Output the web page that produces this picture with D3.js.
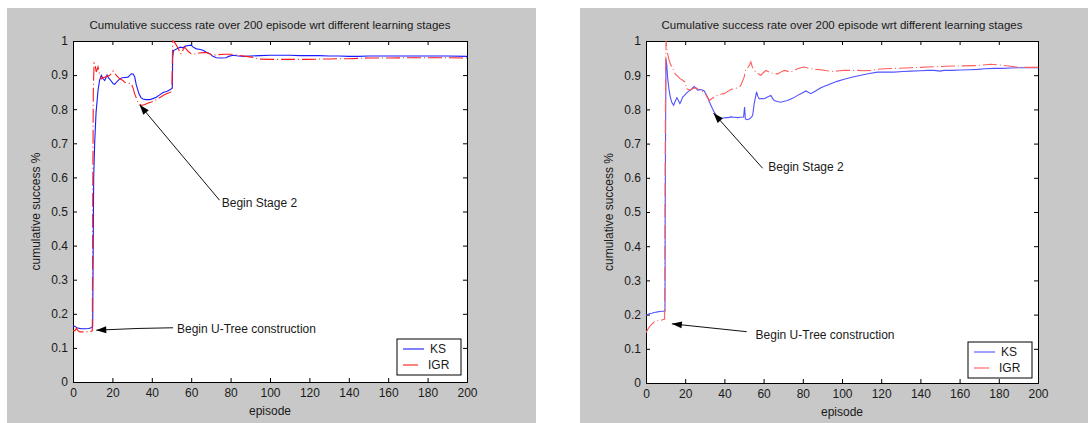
<!DOCTYPE html>
<html>
<head>
<title>cumulative success</title>
<script src="https://d3js.org/d3.v7.min.js"></script>
<style>
body { margin: 0; background: #fff; }
text { font-family: Arial, "Liberation Sans", sans-serif; fill: #1a1a1a; }
</style>
</head>
<body>
<svg width="1088" height="423" id="mainsvg"></svg>
<script>
// ---- data ----
const titleText = 'Cumulative success rate over 200 episode wrt different learning stages';
const xLabel = 'episode';
const yLabel = 'cumulative success %';
const seriesNames = ['KS', 'IGR'];
const xTicks = [0, 20, 40, 60, 80, 100, 120, 140, 160, 180, 200];
const yTicks = [0, 0.1, 0.2, 0.3, 0.4, 0.5, 0.6, 0.7, 0.8, 0.9, 1];

// left chart: [episode, rate]
const leftKS = [[0,0.165],[1,0.163],[2,0.159],[4,0.156],[6,0.156],[8,0.157],[9.6,0.16],[10,0.163],[10.2,0.35],[10.5,0.6],[11,0.7],[11.7,0.79],[12.7,0.855],[13.5,0.885],[14.4,0.899],[15.2,0.89],[16.1,0.884],[17.3,0.9],[18,0.892],[18.6,0.888],[19.5,0.882],[20.3,0.875],[21.2,0.873],[22,0.879],[23.7,0.889],[25,0.892],[26.5,0.893],[27.9,0.894],[29.6,0.904],[30.5,0.903],[31.3,0.895],[32.1,0.872],[33.5,0.845],[34.5,0.834],[35.5,0.83],[37,0.828],[38.9,0.828],[40.5,0.831],[42.3,0.835],[44,0.842],[45.7,0.849],[47.5,0.852],[49.5,0.858],[50.4,0.862],[50.6,0.95],[51,0.972],[51.8,0.974],[53,0.978],[54.5,0.982],[55.8,0.98],[57,0.985],[58.5,0.987],[60,0.988],[61,0.982],[62.6,0.977],[64,0.976],[66,0.973],[67.5,0.968],[69.4,0.963],[71,0.955],[72.8,0.951],[75,0.95],[77.8,0.951],[79,0.955],[81.2,0.958],[84,0.956],[87,0.955],[90,0.956],[95,0.957],[100,0.958],[105,0.958],[110,0.958],[115,0.957],[120,0.957],[125,0.957],[130,0.956],[135,0.956],[140,0.955],[145,0.955],[150,0.956],[160,0.956],[170,0.956],[180,0.956],[190,0.956],[200,0.955]];
const leftIGR = [[0,0.152],[1,0.15],[1.8,0.158],[2.6,0.15],[3.5,0.147],[5,0.147],[7,0.147],[9,0.148],[9.8,0.15],[10,0.5],[10.3,0.85],[10.7,0.935],[11.2,0.93],[11.8,0.909],[12.7,0.924],[13.2,0.909],[14.4,0.889],[15.2,0.892],[16.1,0.894],[17.5,0.897],[18.6,0.899],[19.5,0.905],[20.3,0.912],[21.2,0.905],[22,0.899],[23,0.893],[23.7,0.889],[25.4,0.884],[26.2,0.879],[27.5,0.877],[29.6,0.875],[30.5,0.862],[31.3,0.845],[32.2,0.832],[33,0.821],[34.7,0.811],[36.5,0.814],[38.1,0.818],[40,0.821],[41.5,0.825],[43.5,0.832],[45.7,0.84],[47.5,0.845],[49.6,0.85],[50.2,0.86],[50.6,1.0],[51.4,0.997],[52.2,0.99],[53.5,0.978],[54.4,0.963],[55.2,0.963],[55.9,0.975],[56.7,0.982],[57.5,0.976],[58.4,0.97],[60.1,0.962],[62.6,0.962],[64,0.965],[66,0.966],[67.7,0.966],[69.5,0.962],[71.1,0.958],[74,0.96],[77,0.961],[81.2,0.961],[84,0.958],[88,0.955],[91.4,0.952],[94.8,0.947],[100,0.946],[105,0.946],[110,0.946],[115,0.946],[120,0.946],[125,0.947],[130,0.947],[135,0.948],[140,0.948],[145,0.949],[150,0.95],[160,0.95],[170,0.951],[180,0.951],[190,0.951],[200,0.95]];

// right chart
const rightKS = [[0,0.198],[1,0.2],[2,0.203],[3,0.204],[4,0.206],[5,0.207],[6,0.208],[7,0.209],[8,0.21],[9.7,0.21],[9.8,0.5],[10,0.75],[10.2,0.948],[10.6,0.93],[11,0.895],[11.7,0.86],[12.4,0.836],[13.2,0.82],[14.1,0.812],[15,0.825],[15.8,0.834],[16.5,0.826],[17.3,0.817],[18,0.825],[18.7,0.836],[19.5,0.84],[20.4,0.846],[21.5,0.852],[22.9,0.858],[24,0.864],[24.6,0.867],[25.5,0.862],[26.3,0.856],[27,0.857],[28,0.858],[29,0.856],[29.7,0.854],[30.5,0.846],[31.4,0.836],[32.2,0.824],[33.1,0.812],[34,0.801],[34.8,0.792],[35.7,0.784],[36.5,0.778],[37.5,0.775],[38.2,0.773],[39.5,0.775],[40.8,0.776],[42,0.776],[43.3,0.778],[45,0.777],[46.7,0.776],[48,0.777],[49.8,0.778],[50.3,0.807],[50.7,0.772],[51.5,0.77],[52.7,0.772],[53.6,0.776],[54.4,0.782],[55.2,0.817],[56.4,0.851],[57.1,0.838],[57.8,0.831],[59,0.832],[60.3,0.831],[62,0.836],[63.7,0.841],[64.5,0.833],[65.4,0.826],[67,0.823],[68.8,0.821],[70.5,0.824],[72.2,0.826],[75,0.833],[77.3,0.841],[79,0.846],[81.6,0.854],[82.8,0.85],[84.1,0.846],[86.5,0.854],[89.2,0.863],[91.7,0.869],[94.3,0.875],[97.5,0.882],[101.1,0.888],[105,0.894],[109.6,0.9],[114,0.905],[118.1,0.909],[122,0.909],[126.6,0.909],[131,0.911],[135.1,0.912],[140,0.913],[143.6,0.914],[147,0.914],[150,0.912],[152,0.914],[156,0.914],[160.6,0.915],[165,0.916],[169.1,0.917],[173,0.919],[177.6,0.92],[182,0.92],[186.1,0.921],[190,0.922],[200,0.922]];
const rightIGR = [[0,0.147],[1,0.158],[2,0.166],[3,0.172],[4.7,0.181],[6,0.182],[7.2,0.183],[8.5,0.185],[9.5,0.187],[9.7,0.5],[9.9,0.8],[10.2,1.0],[10.7,0.973],[11.5,0.95],[12.3,0.935],[13.2,0.924],[14.1,0.914],[14.9,0.904],[16,0.898],[17.4,0.89],[18.7,0.885],[20,0.88],[20.8,0.86],[21.8,0.858],[22.8,0.857],[24,0.861],[25.5,0.863],[26.4,0.86],[27.2,0.856],[28.5,0.853],[29.7,0.851],[31,0.838],[32.3,0.826],[33.5,0.831],[34.8,0.836],[36,0.84],[37.4,0.844],[38.6,0.845],[39.9,0.846],[41.6,0.852],[43.3,0.858],[45,0.861],[46.7,0.863],[47.5,0.866],[48.4,0.87],[49.2,0.882],[50.1,0.895],[51,0.919],[51.6,0.92],[52.2,0.924],[52.8,0.93],[53.5,0.939],[54.2,0.925],[55.2,0.914],[57,0.905],[58.6,0.9],[60,0.908],[61.2,0.914],[62.5,0.91],[63.7,0.906],[65.5,0.905],[67.1,0.904],[68.8,0.909],[70.5,0.914],[72,0.912],[73.9,0.909],[75.5,0.914],[77.3,0.919],[79,0.922],[80.7,0.924],[82.5,0.921],[84.1,0.919],[86.5,0.917],[89.2,0.916],[92.5,0.913],[96,0.911],[98.5,0.913],[101.1,0.914],[104.5,0.914],[107.9,0.914],[111,0.913],[114.7,0.914],[118,0.917],[121.5,0.919],[128,0.92],[135.1,0.922],[140,0.923],[143.6,0.924],[148,0.925],[152.1,0.926],[160,0.927],[169.1,0.928],[172,0.93],[175.9,0.932],[180,0.93],[186.1,0.926],[190,0.923],[200,0.923]];

// annotations: text, text position, arrow path (tail ... tip) in data units
const leftNotes = [
  { text: 'Begin Stage 2', at: [75.5, 0.525], path: [[74.4, 0.533], [33.8, 0.813]] },
  { text: 'Begin U-Tree construction', at: [52.8, 0.156], path: [[50.8, 0.159], [33, 0.157], [11.8, 0.152]] }
];
const rightNotes = [
  { text: 'Begin Stage 2', at: [62.4, 0.631], path: [[59.5, 0.628], [34.5, 0.789]] },
  { text: 'Begin U-Tree construction', at: [55.9, 0.14], path: [[51.4, 0.15], [13.2, 0.173]] }
];

// ---- layout ----
const panels = [
  { bg: [7, 8, 529, 415], box: [73, 41, 394, 341], legend: [397, 339],
    series: [leftKS, leftIGR], colors: ['#1a1aff', '#ff1a1a'], notes: leftNotes },
  { bg: [580, 8, 508, 415], box: [646, 41, 392, 342], legend: [968, 342],
    series: [rightKS, rightIGR], colors: ['#5252ff', '#ff5c5c'], notes: rightNotes }
];
const dashes = [null, '14,3,1,3'];

const svg = d3.select('#mainsvg');

function drawArrow(g, pts, x, y) {
  const p = pts.map(d => [x(d[0]), y(d[1])]);
  g.append('path')
    .attr('d', d3.line()(p))
    .attr('fill', 'none')
    .attr('stroke', '#111')
    .attr('stroke-width', 1);
  const tip = p[p.length - 1], prev = p[p.length - 2];
  const ang = Math.atan2(tip[1] - prev[1], tip[0] - prev[0]);
  const len = 10, half = 3.5;
  const bx = tip[0] - len * Math.cos(ang), by = tip[1] - len * Math.sin(ang);
  const head = [
    tip,
    [bx + half * Math.sin(ang), by - half * Math.cos(ang)],
    [bx - half * Math.sin(ang), by + half * Math.cos(ang)]
  ];
  g.append('path')
    .attr('d', d3.line()(head) + 'Z')
    .attr('fill', '#000');
}

panels.forEach(p => {
  const [bx, by, bw, bh] = p.bg;
  const [ax, ay, aw, ah] = p.box;
  svg.append('rect').attr('x', bx).attr('y', by).attr('width', bw).attr('height', bh)
    .attr('fill', '#c8c8c8');

  const x = d3.scaleLinear().domain([0, 200]).range([ax, ax + aw]);
  const y = d3.scaleLinear().domain([0, 1]).range([ay + ah, ay]);

  svg.append('rect').attr('x', ax).attr('y', ay).attr('width', aw).attr('height', ah)
    .attr('fill', '#fff');

  // axes, ticks inward on all four sides
  const tk = 4;
  svg.append('g').attr('transform', `translate(0,${ay + ah})`)
    .call(d3.axisBottom(x).tickValues(xTicks).tickSize(-tk).tickPadding(6).tickFormat(d3.format('d')));
  svg.append('g').attr('transform', `translate(0,${ay})`)
    .call(d3.axisTop(x).tickValues(xTicks).tickSize(-tk).tickFormat(''));
  svg.append('g').attr('transform', `translate(${ax},0)`)
    .call(d3.axisLeft(y).tickValues(yTicks).tickSize(-tk).tickPadding(5).tickFormat(d => d === 0 || d === 1 ? d3.format('d')(d) : d3.format('.1f')(d)));
  svg.append('g').attr('transform', `translate(${ax + aw},0)`)
    .call(d3.axisRight(y).tickValues(yTicks).tickSize(-tk).tickFormat(''));
  svg.selectAll('.domain').attr('stroke', '#000');
  svg.selectAll('.tick line').attr('stroke', '#000');
  svg.selectAll('.tick text').attr('font-size', 12).attr('fill', '#1a1a1a')
    .attr('font-family', 'Arial, "Liberation Sans", sans-serif');

  const line = d3.line().x(d => x(d[0])).y(d => y(d[1]));
  const clipId = 'clip' + ax;
  svg.append('clipPath').attr('id', clipId).append('rect')
    .attr('x', ax).attr('y', ay - 1).attr('width', aw).attr('height', ah + 1);
  const plot = svg.append('g').attr('clip-path', `url(#${clipId})`);
  p.series.forEach((s, i) => {
    plot.append('path')
      .attr('d', line(s))
      .attr('fill', 'none')
      .attr('stroke', p.colors[i])
      .attr('stroke-width', 1.1)
      .attr('stroke-dasharray', dashes[i]);
  });

  // annotations
  const ann = svg.append('g');
  p.notes.forEach(n => {
    drawArrow(ann, n.path, x, y);
    ann.append('text')
      .attr('x', x(n.at[0])).attr('y', y(n.at[1]))
      .attr('dy', '0.35em')
      .attr('font-size', 12)
      .text(n.text);
  });

  // titles
  svg.append('text').attr('x', ax + aw / 2).attr('y', 29)
    .attr('text-anchor', 'middle').attr('font-size', 11.5).text(titleText);
  svg.append('text').attr('x', ax + aw / 2).attr('y', ay + ah + 33)
    .attr('text-anchor', 'middle').attr('font-size', 12).text(xLabel);
  svg.append('text')
    .attr('transform', `translate(${ax - 33},${ay + ah / 2}) rotate(-90)`)
    .attr('text-anchor', 'middle').attr('font-size', 12).text(yLabel);

  // legend
  const [lx, ly] = p.legend;
  const lg = svg.append('g').attr('transform', `translate(${lx},${ly})`);
  lg.append('rect').attr('width', 64).attr('height', 36)
    .attr('fill', '#fff').attr('stroke', '#000');
  seriesNames.forEach((name, i) => {
    const yy = 10 + i * 16;
    lg.append('line').attr('x1', 6).attr('x2', i === 0 ? 27 : 21).attr('y1', yy).attr('y2', yy)
      .attr('stroke', p.colors[i]).attr('stroke-width', 1.1);
    lg.append('text').attr('x', i === 0 ? 33 : 31).attr('y', yy).attr('dy', '0.36em')
      .attr('font-size', 12).text(name);
  });
});
</script>
</body>
</html>
